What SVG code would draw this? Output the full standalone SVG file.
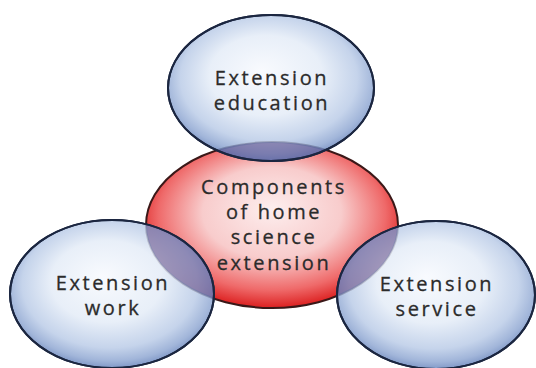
<svg xmlns="http://www.w3.org/2000/svg" width="536" height="368" viewBox="0 0 536 368">
<defs>
<radialGradient id="blue" cx="50%" cy="45%" r="55%" fx="45%" fy="38%">
<stop offset="0" stop-color="#f8fafe" stop-opacity="0.92"/>
<stop offset="0.5" stop-color="#e4ecf7" stop-opacity="0.85"/>
<stop offset="0.78" stop-color="#b7c9e6" stop-opacity="0.8"/>
<stop offset="0.92" stop-color="#8aa3d0" stop-opacity="0.8"/>
<stop offset="1" stop-color="#6a86bd" stop-opacity="0.85"/>
</radialGradient>
<radialGradient id="red" cx="50%" cy="45%" r="55%" fx="50%" fy="40%">
<stop offset="0" stop-color="#fdeeee"/>
<stop offset="0.5" stop-color="#f8cccc"/>
<stop offset="0.82" stop-color="#ef6a6a"/>
<stop offset="1" stop-color="#dc2020"/>
</radialGradient>
<clipPath id="redclip"><ellipse cx="272" cy="225" rx="126" ry="83"/></clipPath>
</defs>
<style>
.b{fill:url(#blue);stroke:#1b2640;stroke-width:2}
.r{fill:url(#red);stroke:#3a1818;stroke-width:2}
.lens{fill:#4d4f94;fill-opacity:0.45;stroke:none}
.t{font-family:"Open Sans","DejaVu Sans",sans-serif;font-size:20px;fill:#2b2b2b;text-anchor:middle;letter-spacing:2.6px;stroke:#2b2b2b;stroke-width:0.3px}
</style>
<rect width="536" height="368" fill="#ffffff"/>
<g id="center">
<ellipse class="r" cx="272" cy="225" rx="126" ry="83"/>
<text class="t" x="274" y="194">Components</text>
<text class="t" x="274" y="219">of home</text>
<text class="t" x="274" y="244">science</text>
<text class="t" x="274" y="270">extension</text>
</g>
<g id="top">
<ellipse class="b" cx="271" cy="88" rx="103" ry="73"/>
<ellipse class="lens" cx="271" cy="88" rx="103" ry="73" clip-path="url(#redclip)"/>
<ellipse cx="271" cy="88" rx="103" ry="73" fill="none" stroke="#1b2640" stroke-width="2"/>
<text class="t" x="272" y="85">Extension</text>
<text class="t" x="272" y="110">education</text>
</g>
<g id="left">
<ellipse class="b" cx="112" cy="294" rx="102" ry="74"/>
<ellipse class="lens" cx="112" cy="294" rx="102" ry="74" clip-path="url(#redclip)"/>
<ellipse cx="112" cy="294" rx="102" ry="74" fill="none" stroke="#1b2640" stroke-width="2"/>
<text class="t" x="113" y="290">Extension</text>
<text class="t" x="113" y="315">work</text>
</g>
<g id="right">
<ellipse class="b" cx="436" cy="295" rx="99" ry="74"/>
<ellipse class="lens" cx="436" cy="295" rx="99" ry="74" clip-path="url(#redclip)"/>
<ellipse cx="436" cy="295" rx="99" ry="74" fill="none" stroke="#1b2640" stroke-width="2"/>
<text class="t" x="437" y="291">Extension</text>
<text class="t" x="437" y="316">service</text>
</g>
<g id="connectors"/>
</svg>
